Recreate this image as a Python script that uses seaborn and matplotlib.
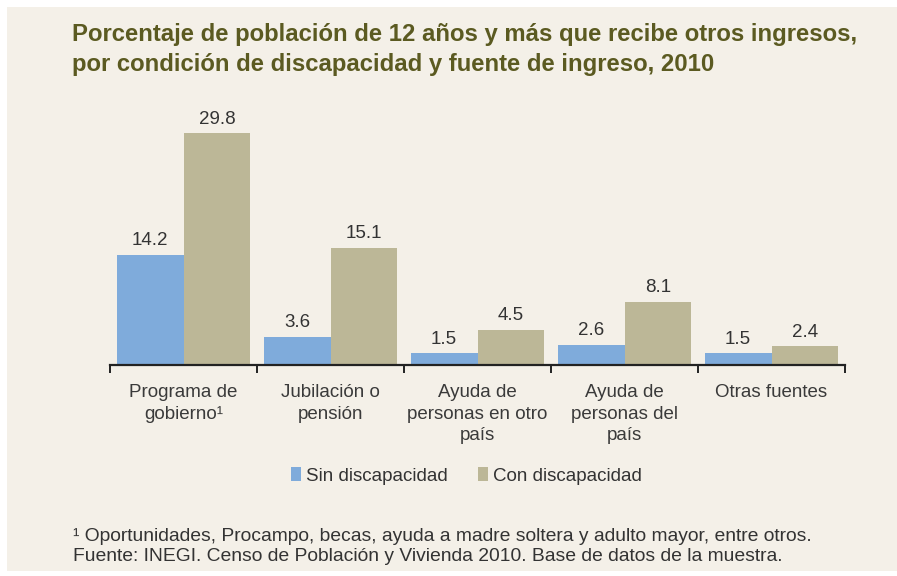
import matplotlib
matplotlib.use("Agg")
import matplotlib.pyplot as plt
import seaborn as sns
import pandas as pd
from matplotlib.patches import Rectangle

categories = ["Programa de\ngobierno¹", "Jubilación o\npensión",
              "Ayuda de\npersonas en otro\npaís", "Ayuda de\npersonas del\npaís",
              "Otras fuentes"]
sin_disc = [14.2, 3.6, 1.5, 2.6, 1.5]
con_disc = [29.8, 15.1, 4.5, 8.1, 2.4]
series_names = ["Sin discapacidad", "Con discapacidad"]
title = ("Porcentaje de población de 12 años y más que recibe otros ingresos,\n"
         "por condición de discapacidad y fuente de ingreso, 2010")
footnote = ("¹ Oportunidades, Procampo, becas, ayuda a madre soltera y adulto mayor, entre otros.\n"
            "Fuente: INEGI. Censo de Población y Vivienda 2010. Base de datos de la muestra.")

df = pd.DataFrame({
    "cat": categories * 2,
    "val": sin_disc + con_disc,
    "serie": [series_names[0]] * len(categories) + [series_names[1]] * len(categories),
})

sns.set_theme(style="white")
plt.rcParams["font.family"] = ["Liberation Sans", "DejaVu Sans"]

BG = "#F4F0E8"
colors = ["#7FABDB", "#BCB797"]
W, H = 897, 576
fig = plt.figure(figsize=(W / 100, H / 100), dpi=100, facecolor="white")
fig.patches.append(Rectangle((7 / W, 5 / H), (W - 7) / W, (H - 12) / H,
                             transform=fig.transFigure, facecolor=BG,
                             edgecolor="none", zorder=-10))

ymax = 32
px_per_unit = 7.78
base_y = 365
ax_h = ymax * px_per_unit
ax = fig.add_axes([110 / W, (H - base_y) / H, (845 - 110) / W, ax_h / H])
ax.set_facecolor("none")

sns.barplot(data=df, x="cat", y="val", hue="serie", palette=colors,
            width=0.91, gap=0, ax=ax, saturation=1, legend=True,
            edgecolor="none")

for cont in ax.containers:
    ax.bar_label(cont, fmt="%.1f", padding=4, fontsize=13.5, color="#333333")

ax.set_xlim(-0.5, len(categories) - 0.5)
ax.set_ylim(0, ymax)
ax.set_xlabel("")
ax.set_ylabel("")
ax.set_yticks([])
for s in ["top", "right", "left"]:
    ax.spines[s].set_visible(False)
ax.spines["bottom"].set_color("#222222")
ax.spines["bottom"].set_linewidth(1.6)
ax.set_xticks(range(len(categories)))
ax.set_xticklabels(categories, fontsize=13.5, color="#3a3a3a", linespacing=1.32)
ax.tick_params(axis="x", which="major", length=0, pad=14)
ax.set_xticks([i - 0.5 for i in range(len(categories) + 1)], minor=True)
ax.tick_params(axis="x", which="minor", bottom=True, length=5.5, width=1.4,
               color="#222222", direction="out")

leg = ax.legend(loc="center", bbox_to_anchor=(0.485, (base_y - 476) / ax_h),
                ncol=2, frameon=False, fontsize=13.5, handlelength=0.55,
                handleheight=0.7, handletextpad=0.25, columnspacing=1.6,
                borderaxespad=0)
for t in leg.get_texts():
    t.set_color("#333333")

fig.text(72 / W, 1 - 23 / H, title, ha="left", va="top", fontsize=17.2,
         fontweight="bold", color="#5B5A21", linespacing=1.4)
fig.text(73 / W, 1 - 528 / H, footnote, ha="left", va="top", fontsize=13.9,
         color="#333333", linespacing=1.25)

fig.savefig("out.png", dpi=100, facecolor="white")
